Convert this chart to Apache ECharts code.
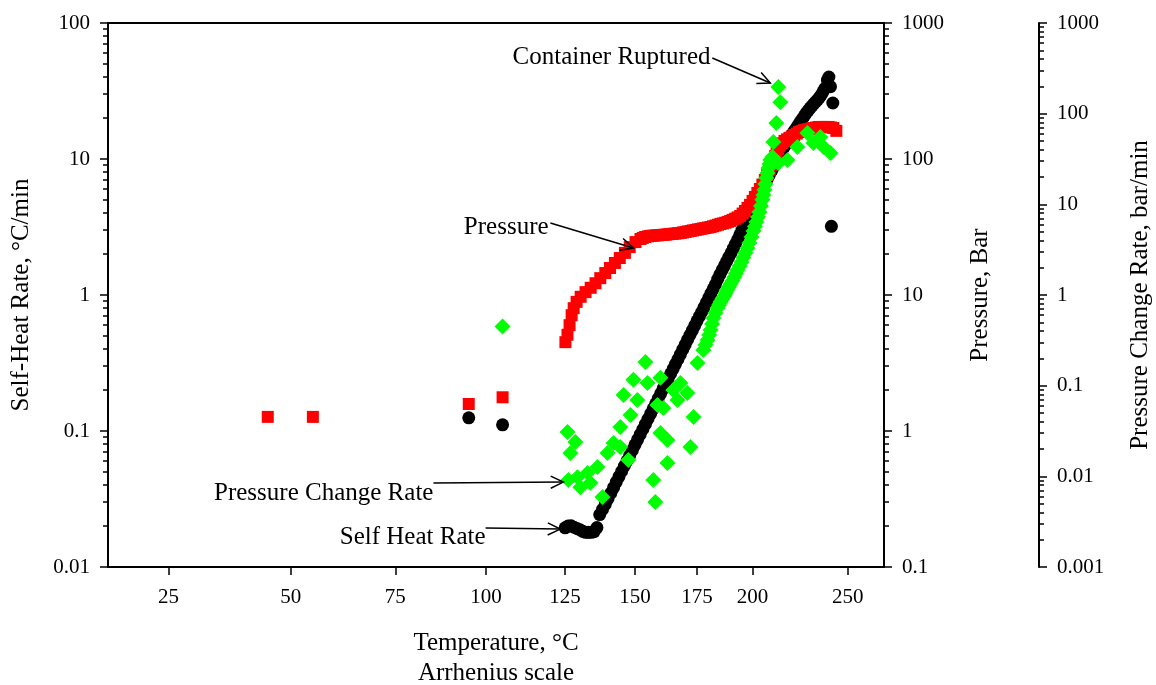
<!DOCTYPE html>
<html>
<head>
<meta charset="utf-8">
<script src="https://cdn.jsdelivr.net/npm/echarts@6/dist/echarts.min.js"></script>
<style>html,body{margin:0;padding:0;background:#fff}#c{width:1156px;height:685px}</style>
</head>
<body>
<div id="c"></div>
<script>
// ---- Data (temperature in °C, values in original units) ----
const shrTemp = [95,105,125,126,127,128,129,130,131,132,133,134,135,136,137,138,139,140,141,142,143,144,145,146,147,148,149,150,151,152,153,154,155,156,157,158,159,160,161,162,163,164,165,166,167,168,169,170,171,172,173,174,175,176,177,178,179,180,181,182,183,184,185,186,187,188,189,190,191,192,193,194,195,196,197,198,199,200,201,202,203,204,205,206,207,208,209,210,211,212,213,214,215,216,217,218,219,220,221,222,223,224,225,226,227,228,229,230,231,232,233,234,235,236,237,238.5,239.3,240.2,241.5,240.7];
const shrRate = [0.125,0.111,0.0194,0.0200,0.0201,0.0196,0.0192,0.0188,0.0183,0.0180,0.0180,0.0180,0.0182,0.0195,0.0243,0.0265,0.0289,0.0318,0.0349,0.0383,0.0421,0.0462,0.0506,0.0553,0.0604,0.0661,0.0723,0.0791,0.0865,0.0944,0.103,0.1123,0.1225,0.1335,0.1455,0.1587,0.173,0.1883,0.205,0.2232,0.243,0.2636,0.286,0.3105,0.337,0.3662,0.398,0.432,0.469,0.508,0.55,0.596,0.646,0.696,0.75,0.812,0.88,0.952,1.03,1.11,1.2,1.31,1.42,1.53,1.64,1.77,1.9,2.04,2.2,2.37,2.56,2.77,3.0,3.24,3.5,3.76,4.05,4.36,4.7,5.04,5.4,5.79,6.2,6.64,7.1,7.58,8.1,8.63,9.2,9.83,10.5,11.2,11.9,12.6,13.3,14.0,14.8,15.5,16.3,17.1,18.0,18.9,19.8,20.8,21.8,22.7,23.7,24.5,25.4,26.3,27.2,28.3,29.5,31.2,33,38,40,34,25.8,3.2];

const presTemp = [45,55,95,105,125.1,125.8,126.5,127.2,127.9,128.9,130.3,132,133.8,135.5,137.2,139,140.7,142.5,144.3,146.2,148,150.2,152.1,153,153.9,155,155.9,157,158,159,159.9,161,162,163,164,165,166,167,168.1,169.1,170.2,171.2,172.3,173.3,174.4,175.4,176.5,177.5,178.6,179.7,180.8,181.9,183,184.1,185.2,186.3,187.4,188.5,189.6,190.7,191.9,193,194.2,195.3,196.4,197.6,198.8,200,201.1,202.3,203.5,204.7,205.9,207.1,208.3,209.2,210.2,211,211.7,212.5,213.2,214.5,215.7,217,218.2,219.5,220.7,222,223.2,224.5,225.8,227.1,228.4,229.7,231,232.3,233.7,235,236.4,237.7,239.1,240.5,241.8,243.5];
const presBar = [1.27,1.27,1.58,1.77,4.5,5.1,6.0,7.1,8.0,8.9,9.7,10.5,11.3,12.2,13.3,14.5,15.8,17.2,18.7,20.4,22.5,24.5,25.8,26.3,26.7,27.0,27.2,27.3,27.4,27.5,27.6,27.7,27.8,27.95,28.1,28.2,28.3,28.45,28.6,28.85,29.1,29.35,29.6,29.85,30.1,30.35,30.6,30.85,31.1,31.35,31.6,32.0,32.4,32.85,33.3,33.6,34,34.5,35,35.7,36.4,37.2,38.1,39.7,41.5,43.7,46,49.2,52.6,56.3,60.2,64.9,70,76.2,83,90.2,98,105,112,118,125,130.4,136,139.5,143,146.5,150,154,158,160.5,163,164.5,166,167.5,169,170.5,172,172,172,172,172,170.5,169,161];

const pcrTemp = [105,125.8,128.5,126.8,142.0,139.8,144.5,147.5,136.2,132.7,129.2,126.1,130.2,133.7,138.0,154.0,149.4,154.8,159.9,145.7,150.9,148.3,144.5,159.9,162.7,172.2,162.7,157.1,157.9,168.0,170.9,166.8,161.1,158.7,173.5,165.1,175.2,177.7,178.6,179.5,180.2,180.8,181.5,182.1,183,183.9,184.6,185.2,186.1,187.0,187.6,188.3,189,189.7,190.6,191.5,192.2,192.9,193.9,194.8,195.7,196.6,197.6,198.5,199.5,200.4,201.1,201.8,202.6,203.3,204,204.7,205.2,205.7,206.2,206.7,207.2,207.7,208.2,208.6,209.6,210.1,211.6,213.6,212.6,212.6,217.2,222.3,227.6,230.8,234.6,236.3,240.2];
const pcrRate = [0.448,0.0308,0.0239,0.0181,0.0233,0.0181,0.0211,0.0151,0.0127,0.0109,0.0098,0.0091,0.0076,0.0085,0.0059,0.182,0.116,0.107,0.122,0.079,0.0695,0.0475,0.035,0.030,0.0252,0.0211,0.014,0.0091,0.0052,0.107,0.083,0.0695,0.0568,0.0612,0.0452,0.0895,0.178,0.247,0.281,0.319,0.362,0.411,0.478,0.557,0.633,0.719,0.776,0.838,0.904,0.975,1.05,1.14,1.23,1.32,1.44,1.58,1.73,1.89,2.09,2.31,2.59,2.90,3.30,3.75,4.36,5.08,5.69,6.38,7.25,8.23,9.6,11.2,12.7,14.4,16.8,19.5,22.2,25.2,27.9,30.8,33.3,48.7,78.9,134,197,28.6,30.8,42.9,61.2,47.5,55.3,42.9,36.8];

const xTickTemps = [25,50,75,100,125,150,175,200,250];
const xRangeTemps = [14, 272];
const leftDecades = [-2, 2];
const presDecades = [-1, 3];
const pcrDecades = [-3, 3];

// annotations: text anchor (right-middle), arrow from -> to, in (°C, left-axis value)
const notes = [
  {text:'Container Ruptured', at:[180.8,56.2], from:[181.6,55.3], to:[208.6,36.2]},
  {text:'Pressure', at:[119.5,3.16], from:[120.1,3.38], to:[149.4,2.216]},
  {text:'Pressure Change Rate', at:[85.1,0.035], from:[85.1,0.0415], to:[124.4,0.0421]},
  {text:'Self Heat Rate', at:[99.9,0.01663], from:[99.9,0.01937], to:[123.4,0.0190]}
];

// ---- helpers ----
const arr = t => -1000 / (t + 273.15);             // Arrhenius scale
const FONT = 'Liberation Serif';
const decFmt = v => { const x = Math.pow(10, Math.round(v)); return x >= 1 ? String(Math.round(x)) : x.toFixed(-Math.round(v)); };
const minorVals = d => { const out = []; for (let e = d[0]; e < d[1]; e++) for (let k = 2; k <= 9; k++) out.push(e + Math.log10(k)); return out; };
const pts = (T, V) => T.map((t, i) => [arr(t), Math.log10(V[i])]);

function yMain(dec, pos, offset, name, gap) {
  return {
    type:'value', position:pos, offset:offset, min:dec[0], max:dec[1], interval:1,
    axisLine:{show:true, onZero:false, lineStyle:{color:'#000', width:2}},
    axisTick:{show:true, inside:false, length:8, lineStyle:{color:'#000', width:1.5}},
    axisLabel:{show:true, margin:18, color:'#000', fontSize:21, fontFamily:FONT, formatter:decFmt},
    splitLine:{show:false},
    name:name, nameLocation:'middle', nameGap:gap, nameRotate:90,
    nameTextStyle:{color:'#000', fontSize:25, fontFamily:FONT}
  };
}
function yMinor(dec, pos, offset) {
  return {
    type:'value', position:pos, offset:offset, min:dec[0], max:dec[1], interval:1,
    axisLine:{show:false}, axisLabel:{show:false}, splitLine:{show:false},
    axisTick:{show:true, inside:false, length:5, customValues:minorVals(dec), lineStyle:{color:'#000', width:1.5}}
  };
}

const xTickU = xTickTemps.map(arr);
const chart = echarts.init(document.getElementById('c'), null, {renderer:'canvas'});
chart.setOption({
  animation:false,
  backgroundColor:'#fff',
  grid:{left:108, right:272, top:23, bottom:118, containLabel:false, outerBoundsMode:'none',
        show:true, borderColor:'#000', borderWidth:2, backgroundColor:'transparent'},
  xAxis:[{
    type:'value', min:arr(xRangeTemps[0]), max:arr(xRangeTemps[1]),
    axisLine:{show:true, onZero:false, lineStyle:{color:'#000', width:2}},
    axisTick:{show:true, inside:false, length:8, customValues:xTickU, lineStyle:{color:'#000', width:1.5}},
    axisLabel:{show:true, customValues:xTickU, margin:20, color:'#000', fontSize:21, fontFamily:FONT,
      formatter:v => String(Math.round(-1000 / v - 273.15))},
    splitLine:{show:false},
    name:'Temperature, °C\nArrhenius scale', nameLocation:'middle', nameGap:61,
    nameTextStyle:{color:'#000', fontSize:25, fontFamily:FONT, lineHeight:30}
  }],
  yAxis:[
    yMain(leftDecades, 'left', 0, 'Self-Heat Rate, °C/min', 74),
    yMain(presDecades, 'right', 0, 'Pressure, Bar', 84),
    yMain(pcrDecades, 'right', 155, 'Pressure Change Rate, bar/min', 89),
    yMinor(leftDecades, 'left', 0),
    yMinor(presDecades, 'right', 0),
    yMinor(pcrDecades, 'right', 155)
  ],
  series:[
    {name:'Self Heat Rate', type:'scatter', xAxisIndex:0, yAxisIndex:0, symbol:'circle', symbolSize:13,
     itemStyle:{color:'#000', opacity:1}, data:pts(shrTemp, shrRate), z:2},
    {name:'Pressure', type:'scatter', xAxisIndex:0, yAxisIndex:1, symbol:'rect', symbolSize:12,
     itemStyle:{color:'#ff0000', opacity:1}, data:pts(presTemp, presBar), z:3},
    {name:'Pressure Change Rate', type:'scatter', xAxisIndex:0, yAxisIndex:2, symbol:'diamond', symbolSize:16,
     itemStyle:{color:'#00ff00', opacity:1}, data:pts(pcrTemp, pcrRate), z:4}
  ]
});

// annotations placed through the axes' own conversion
const px = (p) => chart.convertToPixel({xAxisIndex:0, yAxisIndex:0}, [arr(p[0]), Math.log10(p[1])]);
const g = [];
notes.forEach(n => {
  const a = px(n.at), f = px(n.from), t = px(n.to);
  g.push({type:'text', x:a[0], y:a[1], style:{text:n.text, fill:'#000', font:'25px "' + FONT + '"', align:'right', verticalAlign:'middle'}, z:10});
  g.push({type:'line', shape:{x1:f[0], y1:f[1], x2:t[0], y2:t[1]}, style:{stroke:'#000', lineWidth:1.5}, z:10});
  const dx = f[0] - t[0], dy = f[1] - t[1], L = Math.hypot(dx, dy), ux = dx / L, uy = dy / L;
  const ang = 0.45, len = 14;
  const r = s => [t[0] + len * (ux * Math.cos(s) - uy * Math.sin(s)), t[1] + len * (ux * Math.sin(s) + uy * Math.cos(s))];
  g.push({type:'polyline', shape:{points:[r(ang), t, r(-ang)]}, style:{stroke:'#000', lineWidth:1.5, fill:null}, z:10});
});
chart.setOption({graphic:g});
</script>
</body>
</html>
